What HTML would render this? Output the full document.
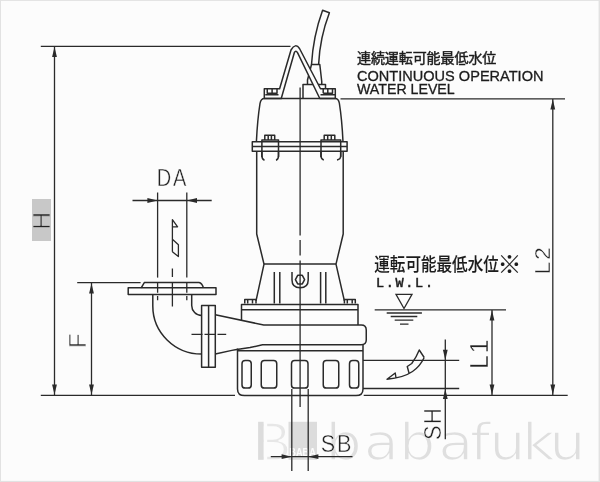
<!DOCTYPE html>
<html lang="ja">
<head>
<meta charset="utf-8">
<title>Pump dimension drawing</title>
<style>
html,body{margin:0;padding:0;background:#fcfcfc;}
body{width:600px;height:482px;overflow:hidden;position:relative;font-family:"Liberation Sans","Noto Sans CJK JP",sans-serif;}
svg{position:absolute;left:0;top:0;display:block;will-change:transform;}
.ln{fill:none;stroke:#2a2a2a;stroke-width:1.5;stroke-linecap:butt;stroke-linejoin:round;}
.th{fill:none;stroke:#2a2a2a;stroke-width:1.3;stroke-linecap:butt;stroke-linejoin:miter;}
.ar{fill:#2a2a2a;stroke:none;}
.t{fill:#1c1c1c;stroke:#1c1c1c;stroke-width:0.3px;font-family:"Liberation Sans","Noto Sans CJK JP",sans-serif;}
.lb{fill:#222;font-family:"Liberation Sans",sans-serif;font-size:23.3px;stroke:#fcfcfc;stroke-width:0.45px;letter-spacing:1.6px;}
.wm{fill:#dddddd;}
</style>
</head>
<body>
<svg width="600" height="482" viewBox="0 0 600 482">
<rect x="0" y="0" width="600" height="482" fill="#fcfcfc"/>
<!-- border -->
<rect x="0" y="0" width="600" height="1" fill="#e4e4e4"/>
<rect x="0" y="0" width="1" height="482" fill="#e2e2e2"/>
<rect x="598.600" y="0" width="1.400" height="482" fill="#e2e2e2"/>
<rect x="0" y="480.900" width="600" height="1.100" fill="#e2e2e2"/>

<!-- watermark -->
<g id="wm">
<text transform="translate(254.300 459.800) scale(1.04 1)" font-size="53" style="font-family:'Liberation Sans',sans-serif;fill:#e7e7e7;stroke:#fcfcfc;stroke-width:1.600px">B</text>
<rect x="263.500" y="421" width="3.700" height="40" fill="#fcfcfc"/>
<rect x="258.100" y="421.800" width="5.500" height="38" fill="#dcdcdc"/>
<rect x="288.500" y="421.800" width="28.500" height="38" fill="#dcdcdc"/>
<text x="289.300" y="455.700" font-size="11.500" font-weight="bold" style="font-family:'Liberation Sans',sans-serif;fill:#fcfcfc" textLength="26.500" lengthAdjust="spacingAndGlyphs">BABA</text>
<text transform="scale(1.1 1)" y="459.600" x="295.86 330.59 362.82 398.36 427.27 444.77 474.64 499.27" font-size="52" style="font-family:'DejaVu Sans','Liberation Sans',sans-serif;fill:#dfdfdf;stroke:#fcfcfc;stroke-width:1.500px">babafuku</text>
</g>
<!-- labels -->
<rect x="32" y="199" width="19" height="42" fill="#c8c8c8"/>
<text class="lb" transform="translate(49.7 229.7) rotate(-90) scale(1.03 1)" style="stroke:#c8c8c8;stroke-width:0.7px;font-size:24px">H</text>
<text class="lb" transform="translate(86.3 348.2) rotate(-90) scale(1.06 1)" style="stroke-width:0.7px">F</text>
<text class="lb" transform="translate(156.7 185.8) scale(0.86 1)" style="letter-spacing:2.2px">DA</text>
<text class="lb" transform="translate(320.8 451.6) scale(0.93 1)" style="letter-spacing:2px">SB</text>
<text class="lb" transform="translate(441 440) rotate(-90) scale(0.9 1)" style="font-size:24.3px">SH</text>
<text class="lb" transform="translate(487.6 369) rotate(-90) scale(1.0 1)" style="font-size:25px;letter-spacing:1.6px">L1</text>
<text class="lb" transform="translate(549.9 274.5) rotate(-90) scale(1.09 1)" style="font-size:21.2px">L2</text>

<text class="t" font-size="14" style="stroke-width:0.45px" x="357" y="63" textLength="139.300">連続運転可能最低水位</text>
<text class="t" font-size="14.300" x="357" y="81.100" textLength="186.500" lengthAdjust="spacingAndGlyphs">CONTINUOUS OPERATION</text>
<text class="t" font-size="14.300" x="357" y="93.800" textLength="97.700" lengthAdjust="spacingAndGlyphs">WATER LEVEL</text>
<text class="t" font-size="18.500" font-weight="500" style="stroke-width:0.1px" y="271"><tspan x="374.300" textLength="124.500" lengthAdjust="spacingAndGlyphs">運転可能最低水位</tspan><tspan x="497.600" dy="1.800" font-size="24" font-weight="400">※</tspan></text>
<text class="t" font-size="13.500" x="376" y="286.500" style="font-family:'Liberation Mono',monospace;stroke-width:0.5px" textLength="57">L.W.L.</text>

<!-- dimension lines -->
<g class="th">
<path d="M40.800 46.300H290.500"/>
<path d="M40.800 395.300H235"/>
<path d="M54.500 47V395"/>
<path d="M77.200 282.700H140.600"/>
<path d="M91.500 283V395"/>
<path d="M132.500 200.500H211.700"/>
<path d="M157.600 192.500V277.600"/>
<path d="M186.800 192.500V277.600"/>
<path d="M340.500 98.800H565"/>
<path d="M552.800 99V395"/>
<path d="M363.700 395.300H567.700"/>
<path d="M374.700 309.800H506"/>
<path d="M492 310V395"/>
<path d="M363 360.400H459.200"/>
<path d="M363 388.500H459.200"/>
<path d="M445.300 339.500V439.300"/>
<path d="M291.800 389V471M308.200 389V471"/>
<path d="M270.800 456.700H352.500"/>
</g>
<g class="ar">
<path d="M54.5 46.8l-2.4 10.2h4.8z"/>
<path d="M54.5 394.8l-2.4 -10.2h4.8z"/>
<path d="M91.5 283.2l-2.4 10.2h4.8z"/>
<path d="M91.5 394.8l-2.4 -10.2h4.8z"/>
<path d="M157.6 200.5l-10.2 -2.4v4.8z"/>
<path d="M186.8 200.5l10.2 -2.4v4.8z"/>
<path d="M552.8 99.3l-2.4 10.2h4.8z"/>
<path d="M552.8 394.8l-2.4 -10.2h4.8z"/>
<path d="M492 310.3l-2.4 10.2h4.8z"/>
<path d="M492 394.8l-2.4 -10.2h4.8z"/>
<path d="M445.3 360l-2.4 -10.2h4.8z"/>
<path d="M445.3 388.9l-2.4 10.2h4.8z"/>
<path d="M291.8 456.7l-10.2 -2.4v4.8z"/>
<path d="M308.2 456.7l10.2 -2.4v4.8z"/>
</g>

<!-- water level symbol -->
<g class="th">
<path d="M396 294.300H412L404 308.500Z"/>
<path d="M386.700 313H421.900M390.700 316.500H417.300M394.700 320.200H413.300M400 324.200H408.500"/>
</g>
<!-- flow arrow -->
<path class="th" style="stroke-linejoin:round;stroke-width:1.4" d="M424.200 357.500Q420 366.500 412.500 371.500Q403.500 377.750 387 379.250L395.250 373L396 378M409 373L407.250 366.500L411.750 363.500Q416.250 357.500 419.250 350L424.200 357.500"/>

<!-- pump -->
<g class="ln" id="pump">
<path class="th" d="M300.100 87.500V235.500M300.100 239.900V255.500M300.100 260.400V407"/>
<!-- cable -->
<path d="M311.500 64.500Q313.200 36 322.600 10.200L329.400 12.800Q319.800 38 318.600 64.500"/>
<path d="M307.500 84.500V80L311.500 64.500H319.800L321.750 81.500V84.500"/>
<path d="M303 98.500V84.500H325.500V88.250"/>
<!-- handle -->
<path style="fill:#fcfcfc" d="M264.300 98.500V88.750H279.600L291 50Q295.500 42.500 299.500 48.500L320.500 88.750H335.300V98.500H319.800L297.500 52.700Q295.800 49.700 294.300 52.700L281.250 98.500Z"/>
<path d="M265.300 94.750H278.500M267.250 88.750V93.300H277V88.750M272.100 88.750V93.300"/>
<path d="M335.300 94.750H320.500M332.500 88.750V93.300H323.200M327.800 88.750V93.300M323.200 88.750V93.300"/>
<!-- top cover -->
<path d="M256.400 141.700Q257.400 120 260 103.500Q260.800 98.500 264.500 98.500H335Q338.700 98.500 339.400 103.500Q342 120 343 141.700"/>
<!-- flange band -->
<path d="M252.300 141.700H347.100V151.300H252.300Z"/>
<path d="M252.300 146.500H347.100"/>
<!-- bolts -->
<path d="M264.800 140V135.200H274.700V140M268.200 135.200V140M271.400 135.200V140"/>
<path d="M261.900 157V140H278.500V157"/>
<path d="M261.900 151V156Q262 159.500 264.500 160.300M278.500 151V156Q278.400 159.500 276 160.300"/>
<path d="M324.200 140V135.200H334.800V140M327.700 135.200V140M331.300 135.200V140"/>
<path d="M321 157V140H340.700V157"/>
<path d="M321 151V156Q321.100 159.300 323.800 160M340.700 151V156Q340.600 159.300 337 160"/>
<!-- body -->
<path d="M256.700 151.300V234L264 264.100L256 300.800M343.200 151.300V234L336 264.100L344.400 300.800"/>
<path d="M264 264.100H336"/>
<!-- ribs -->
<path d="M274.300 272V303.600M279.800 272V303.600M320.600 272V303.600M325.800 272V303.600"/>
<!-- plug -->
<path d="M292 272V280Q292 287.800 300.100 287.800Q308.200 287.800 308.200 280V272"/>
<path d="M295.400 279.600L297.700 275.300H302.300L304.600 279.600L302.300 283.900H297.700Z"/>
<!-- base bolts -->
<path d="M244.750 303.400V299.500H256V303.400M344.400 303.400V299.500H355.300V303.400M247.700 299.500V303.400M252.500 299.500V303.400M347.300 299.500V303.400M352.200 299.500V303.400"/>
<!-- casing -->
<path d="M241.500 320.500V304.500H358V325"/>
<path d="M241.500 309.700H358"/>
<!-- volute -->
<path d="M215.300 314.800L263.750 325H361.250Q366.250 325 366.250 330V340Q366.250 344.700 361.250 344.700H262.500L250 347.600Q232.700 349.700 215.300 354"/>
<!-- strainer -->
<path d="M237.500 348.500V389Q237.500 395.600 244.500 395.600H356Q363 395.600 363 389V344.700"/>
<path d="M237.500 350.800H363"/>
<rect x="242" y="360.500" width="9.250" height="27.600" rx="3.200"/>
<rect x="261.250" y="360.500" width="15.500" height="27.600" rx="3.200"/>
<rect x="291.500" y="360.500" width="16.500" height="27.600" rx="3.200"/>
<rect x="323.250" y="360.500" width="15.500" height="27.600" rx="3.200"/>
<rect x="349.500" y="360.500" width="9.250" height="27.600" rx="3.200"/>
<!-- vertical flange -->
<path d="M201.600 305.400H215.300V367.300H201.600Z"/>
<path d="M208.600 305.400V367.300"/>
<path class="th" d="M191.500 334.400H202.500M204.500 334.400H215.500M217.500 334.400H226.200"/>
<!-- elbow -->
<path d="M152.800 294.500V306A48.800 48 0 0 0 201.600 354"/>
<path d="M191.700 294.500V305.500A10 10 0 0 0 201.600 315.500"/>
<!-- horizontal flange -->
<path d="M128.200 287.800H216V294.500H128.200Z"/>
<path d="M141.200 287.800L144.300 282.600H199Q202 283.200 203.400 287.800"/>
<path class="th" d="M157.600 282V292.750M157.600 296V300.300M186.800 282V292.750M186.800 296V300.300"/>
<path class="th" d="M172.400 268.500V277M172.400 282V306.500"/>
<!-- flow symbol -->
<path class="th" style="stroke-linejoin:round" d="M172.400 251.700V219.700L177.600 226.800H172.400M172.400 239.200L178.400 244.800V256.600L172.400 251.700"/>
</g>
</svg>
</body>
</html>
